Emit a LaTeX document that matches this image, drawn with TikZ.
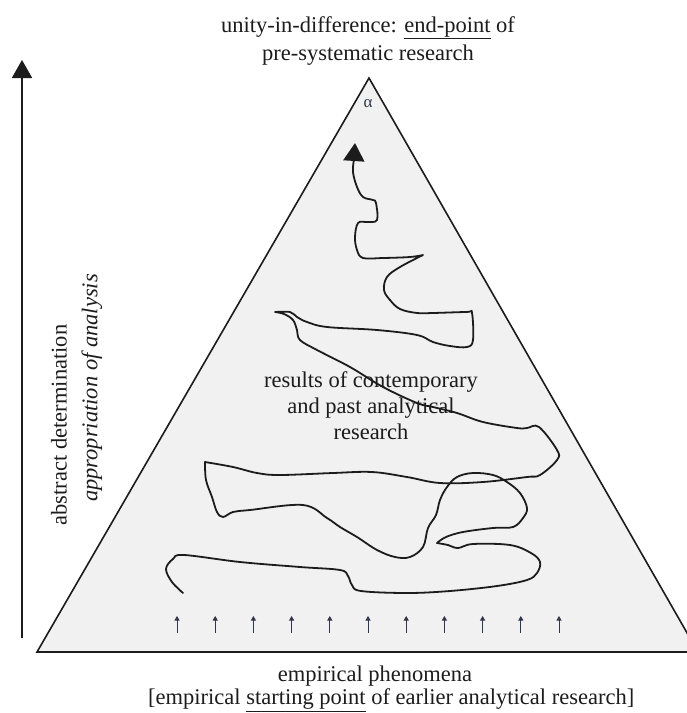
\documentclass[tikz,border=0pt]{standalone}
\usepackage{fontspec}
\setmainfont{Liberation Serif}
\usepackage{tikz}
\usetikzlibrary{positioning,arrows.meta}
\definecolor{PYRink}{HTML}{1C1C1C}
\definecolor{PYRfill}{HTML}{F1F1F1}
\definecolor{PYRtick}{HTML}{33364A}

\begin{document}
\begin{tikzpicture}[x=1pt, y=-1pt,
  lbl/.style={font=\fontsize{22.5}{26}\selectfont, text=PYRink, align=center, inner sep=0pt},
  pathway/.style={draw=PYRink, line width=1.8pt, line join=round, line cap=round},
  smallup/.style={draw=PYRtick, line width=1pt, -{Triangle[length=4.5pt,width=5pt]}}]
\useasboundingbox (0,0) rectangle (687,713);
% the triangle
\coordinate (apex) at (369,78);
\coordinate (baseL) at (37,652);
\coordinate (baseR) at (698,652);
\filldraw[fill=PYRfill, draw=PYRink, line width=1.6pt] (apex) -- (baseL) -- (baseR) -- cycle;
\draw[PYRink, line width=2.2pt] (baseL) -- (baseR);
\node[font=\fontsize{17}{17}\selectfont, text=PYRtick, inner sep=0pt] (alpha) at (368,104) {α};

% vertical axis
\coordinate (axisBot) at (22,638);
\coordinate (axisTop) at (22,60);
\draw[PYRink, line width=1.9pt, -{Triangle[length=18pt,width=20pt]}] (axisBot) -- (axisTop);
\node[lbl, rotate=90] (abstr) at (59,425) {abstract determination};
\node[lbl, rotate=90, font=\fontsize{22.5}{26}\selectfont\itshape] (approp) at (92,388) {appropriation of analysis};

% labels
\node[lbl, font=\fontsize{22.5}{28}\selectfont] (unity) at (368,41) {unity-in-difference: \underline{end-point} of\\pre-systematic research};
\node[lbl] (results) at (371,406) {results of contemporary\\and past analytical\\research};
\node[lbl] (phen) at (375,676) {empirical phenomena};
\node[lbl, anchor=west] (start) at (148,700) {[empirical \underline{starting point} of earlier analytical research]};

% empirical arrows along the base
\foreach \i in {0,...,10}{
  \draw[smallup] (177+38.2*\i,633) -- (177+38.2*\i,616);
}

% the research path, from the base up to alpha
\draw[pathway, -{Triangle[length=18pt,width=21pt]}]
  plot[smooth, tension=0.6] coordinates {(183,593) (172,582) (166,569) (173,559) (184,555) (240,562)
    (300,567) (340,570) (348,576) (352,585) (361,591) (407,593) (450,591) (497,586) (527,580)
    (537,573) (540,562) (531,553) (510,545) (473,544) (458,548) (448,545) (437,543)}
  -- plot[smooth, tension=0.6] coordinates {(437,543) (446,537) (463,532) (493,528) (513,527)
    (523,518) (527,508) (520,493) (507,482) (493,475) (473,473) (457,477) (447,487) (440,500)
    (436,515) (428,528) (423,547) (410,557) (395,557) (377,550) (357,537) (340,527) (327,518)
    (303,505) (250,510) (233,512) (223,517) (217,512) (212,497) (206,480) (205,462)}
  -- plot[smooth, tension=0.6] coordinates {(205,462) (233,467) (257,473) (280,475) (333,473)
    (372,472) (407,477) (440,483) (483,482) (527,477) (540,475) (557,460) (557,450) (539,427)
    (527,428) (517,428) (483,422) (457,413) (433,407) (417,403) (383,387) (350,367) (317,350)
    (300,340) (297,330) (293,320) (284,314) (275,312)}
  -- plot[smooth, tension=0.6] coordinates {(275,312) (290,312) (297,317) (307,322) (327,327)
    (377,330) (417,335) (433,342) (450,346) (467,347) (473,340) (472,313) (467,312) (433,313)
    (417,313) (400,309) (390,300) (384,290) (387,277) (400,267) (423,255)}
  -- plot[smooth, tension=0.6] coordinates {(423,255) (410,257) (383,258) (363,258) (357,250)
    (355,237) (358,223) (367,222) (377,220) (376,203) (373,200) (363,197) (357,187) (353,172)
    (354,158) (355,143)};
\end{tikzpicture}
\end{document}
